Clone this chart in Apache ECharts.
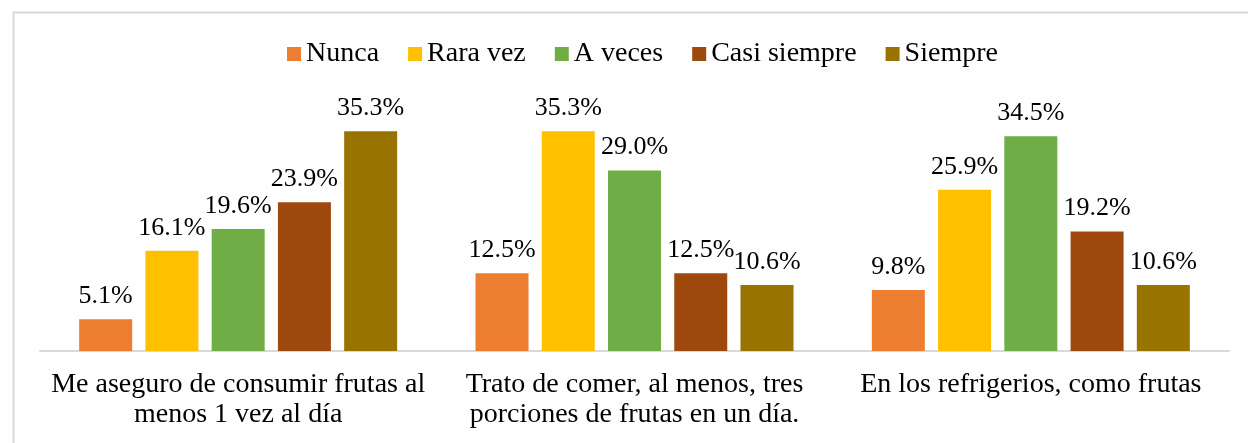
<!DOCTYPE html>
<html>
<head>
<meta charset="utf-8">
<script src="https://cdn.jsdelivr.net/npm/echarts@6/dist/echarts.min.js"></script>
<style>
html,body{margin:0;padding:0;background:#fff;}
#c{width:1248px;height:443px;}
</style>
</head>
<body>
<div id="c"></div>
<script>
const categories = ["Me aseguro de consumir frutas al\nmenos 1 vez al día", "Trato de comer, al menos, tres\nporciones de frutas en un día.", "En los refrigerios, como frutas"];
const seriesNames = ["Nunca", "Rara vez", "A veces", "Casi siempre", "Siempre"];
const nunca = [5.1, 12.5, 9.8];
const raraVez = [16.1, 35.3, 25.9];
const aVeces = [19.6, 29.0, 34.5];
const casiSiempre = [23.9, 12.5, 19.2];
const siempre = [35.3, 10.6, 10.6];
const colors = ["#ED7D31", "#FFC000", "#70AD47", "#9E480E", "#997300"];

const values = [nunca, raraVez, aVeces, casiSiempre, siempre];
const font = "'Liberation Serif', 'Times New Roman', serif";
const chart = echarts.init(document.getElementById('c'));
chart.setOption({
  animation: false,
  backgroundColor: '#fff',
  textStyle: {fontFamily: font},
  graphic: [{
    type: 'rect', left: 11, top: 10, shape: {width: 1250, height: 450},
    style: {fill: 'none', stroke: '#d9d9d9', lineWidth: 2}, silent: true, z: -1
  }],
  legend: {
    top: 35, left: 282,
    itemWidth: 14, itemHeight: 14, itemGap: 29,
    icon: 'rect',
    textStyle: {fontFamily: font, fontSize: 28, color: '#000'},
    data: seriesNames
  },
  grid: {left: 40, right: 19, top: 102, bottom: 92},
  xAxis: {
    type: 'category', data: categories,
    axisLine: {lineStyle: {color: '#d9d9d9', width: 2}},
    axisTick: {show: false},
    axisLabel: {fontFamily: font, fontSize: 28, color: '#000', lineHeight: 30, margin: 19, interval: 0}
  },
  yAxis: {type: 'value', min: 0, max: 40, show: false, splitLine: {show: false}},
  series: seriesNames.map((n, i) => ({
    name: n, type: 'bar', data: values[i],
    barWidth: 53, barGap: '25%',
    itemStyle: {color: colors[i]},
    label: {
      show: true, position: 'top', distance: 10,
      fontFamily: font, fontSize: 26, color: '#000',
      formatter: p => p.value.toFixed(1) + '%'
    }
  }))
});
</script>
</body>
</html>
